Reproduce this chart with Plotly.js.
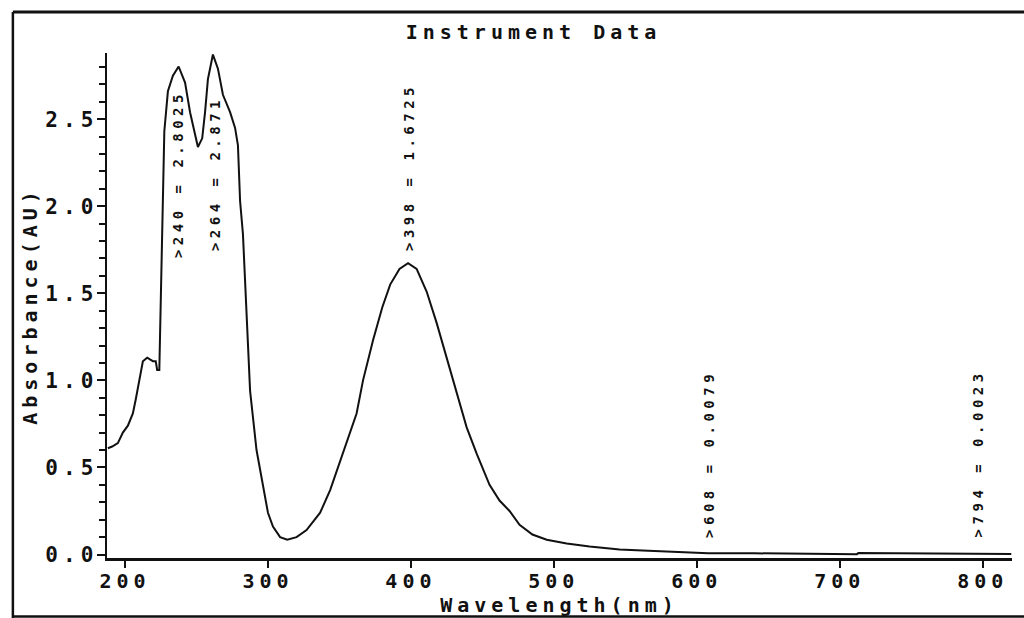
<!DOCTYPE html>
<html>
<head>
<meta charset="utf-8">
<script src="https://cdn.plot.ly/plotly-3.0.1.min.js"></script>
<style>
  html, body { margin: 0; padding: 0; background: #ffffff; }
  #chart { width: 1024px; height: 618px; }
  .xtick text, .ytick text, .xtitle, .ytitle { letter-spacing: 5px; }
  .gtitle { letter-spacing: 5px; }
  .annotation-text { letter-spacing: 4.5px; }
</style>
</head>
<body>
<div id="chart"></div>
<script>
// Spectrum
const wavelength = [188, 191, 195, 198.5, 202, 205.5, 207.5, 209, 210.5, 212, 212.5, 215.5, 219.5, 221.5, 222.5, 224, 225, 226.5, 227.5, 230, 233.5, 237.5, 242, 245.5, 249, 251, 254, 256, 258, 261.5, 265, 268.5, 273.5, 277, 279, 280.5, 282.5, 284, 285.5, 287.5, 292, 296.5, 300, 303.5, 308.5, 313.5, 320, 327, 336.5, 343.5, 352.5, 362, 366.5, 373.5, 380, 385.5, 392, 398, 404, 411, 418, 425, 432, 439, 446, 455, 462, 469, 476, 485, 495, 509, 525, 546, 562, 588, 608, 640, 670, 690, 700, 712, 713, 740, 770, 794, 820];
const absorbance = [0.61, 0.62, 0.64, 0.70, 0.74, 0.81, 0.89, 0.96, 1.03, 1.09, 1.11, 1.13, 1.11, 1.11, 1.06, 1.06, 1.46, 2.03, 2.43, 2.66, 2.75, 2.8025, 2.71, 2.54, 2.41, 2.34, 2.39, 2.54, 2.73, 2.871, 2.79, 2.64, 2.54, 2.45, 2.35, 2.03, 1.84, 1.55, 1.23, 0.94, 0.60, 0.39, 0.24, 0.16, 0.10, 0.085, 0.10, 0.14, 0.24, 0.37, 0.58, 0.81, 1.00, 1.23, 1.42, 1.55, 1.64, 1.6725, 1.64, 1.51, 1.33, 1.13, 0.94, 0.73, 0.58, 0.40, 0.31, 0.25, 0.17, 0.115, 0.085, 0.063, 0.046, 0.029, 0.023, 0.015, 0.0079, 0.007, 0.006, 0.003, 0.002, 0.002, 0.008, 0.006, 0.004, 0.0023, 0.003];

// Peak markers
const peakText = [">240 = 2.8025", ">264 = 2.871", ">398 = 1.6725", ">608 = 0.0079", ">794 = 0.0023"];
const peakX = [237, 262.5, 398.5, 608, 796.5];
const peakLabelY = [1.69, 1.73, 1.73, 0.085, 0.085];

const xTicks = [200, 300, 400, 500, 600, 700, 800];
const yTicks = [0, 0.5, 1.0, 1.5, 2.0, 2.5];
const yTickText = ["0.0", "0.5", "1.0", "1.5", "2.0", "2.5"];

const FONT = "DejaVu Sans Mono, Liberation Mono, monospace";
const INK = "#111111";

const trace = {
  x: wavelength,
  y: absorbance,
  type: "scatter",
  mode: "lines",
  line: { color: INK, width: 2 },
  hoverinfo: "x+y",
  showlegend: false
};

const annotations = peakText.map((t, i) => ({
  x: peakX[i], y: peakLabelY[i], xref: "x", yref: "y",
  text: t, textangle: -90, showarrow: false,
  xanchor: "center", yanchor: "bottom",
  font: { family: FONT, size: 14, color: INK, weight: "bold" }
}));

// Paper border lines of the printout
const shapes = [
  { type: "line", xref: "paper", yref: "paper", x0: -0.104, x1: 1.02, y0: 1.081, y1: 1.081, line: { color: INK, width: 3 } },
  { type: "line", xref: "paper", yref: "paper", x0: -0.104, x1: -0.104, y0: 1.081, y1: -0.12, line: { color: INK, width: 2.5 } },
  { type: "line", xref: "paper", yref: "paper", x0: -0.104, x1: 1.02, y0: -0.116, y1: -0.116, line: { color: INK, width: 2.5 } }
];

const layout = {
  width: 1024, height: 618,
  margin: { l: 107, r: 12, t: 53, b: 60 },
  paper_bgcolor: "#ffffff",
  plot_bgcolor: "#ffffff",
  font: { family: FONT, color: INK, size: 20, weight: "bold" },
  title: {
    text: "Instrument Data",
    xref: "container", yref: "container",
    x: 0.521, y: 0.948, xanchor: "center", yanchor: "middle",
    font: { family: FONT, size: 20, color: INK, weight: "bold" }
  },
  xaxis: {
    range: [187.4, 820.5],
    tickvals: xTicks,
    ticks: "outside", ticklen: 7, tickwidth: 2, tickcolor: INK,
    ticklabelstandoff: -4,
    showline: true, linecolor: INK, linewidth: 2.5,
    showgrid: false, zeroline: false,
    tickfont: { family: FONT, size: 20, color: INK, weight: "bold" },
    title: { text: "Wavelength(nm)", standoff: 6, font: { family: FONT, size: 20, color: INK, weight: "bold" } }
  },
  yaxis: {
    range: [-0.02, 2.88],
    tickvals: yTicks, ticktext: yTickText,
    ticks: "outside", ticklen: 8, tickwidth: 2, tickcolor: INK,
    ticklabelstandoff: -6,
    minor: { dtick: 0.1, tick0: 0, ticks: "outside", ticklen: 6, tickwidth: 2, tickcolor: INK, showgrid: false },
    showline: true, linecolor: INK, linewidth: 2.5,
    showgrid: false, zeroline: false,
    tickfont: { family: FONT, size: 21, color: INK, weight: "bold" },
    title: { text: "Absorbance(AU)", standoff: 3, font: { family: FONT, size: 20, color: INK, weight: "bold" } }
  },
  annotations: annotations,
  shapes: shapes
};

Plotly.newPlot("chart", [trace], layout, { staticPlot: true, displayModeBar: false });
</script>
</body>
</html>
